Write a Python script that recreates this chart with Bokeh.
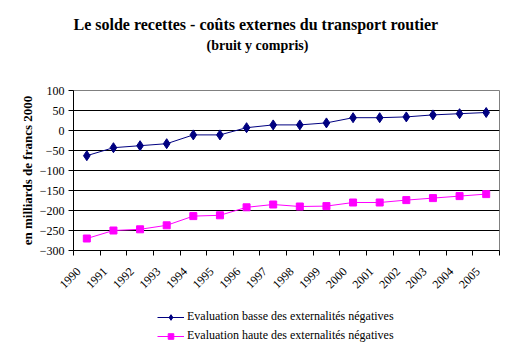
import math
from bokeh.plotting import figure
from bokeh.layouts import column
from bokeh.models import (ColumnDataSource, FixedTicker, Range1d, Legend, LegendItem, Title)
from bokeh.embed import file_html
from bokeh.resources import INLINE

years = ["1990", "1991", "1992", "1993", "1994", "1995", "1996", "1997",
         "1998", "1999", "2000", "2001", "2002", "2003", "2004", "2005"]
basse = [-63, -43, -38, -33, -11, -11, 7, 14, 14, 19, 32, 32, 34, 39, 42, 45]
haute = [-270, -250, -247, -237, -214, -212, -192, -185, -190, -189, -180, -180, -174, -169, -164, -159]
y_ticks = [100, 50, 0, -50, -100, -150, -200, -250, -300]
grid_ticks = [50, 0, -50, -100, -150, -200, -250]

title_1 = "Le  solde recettes - coûts externes du transport routier"
title_2 = "(bruit y compris)"
y_title = "en milliards de francs 2000"
label_basse = "Evaluation basse des externalités négatives"
label_haute = "Evaluation haute des externalités négatives"

BLUE = "#000080"
MAGENTA = "#FF00FF"
FONT = "Liberation Serif"

n = len(years)
xc = [i + 0.5 for i in range(n)]
src = ColumnDataSource(dict(x=xc, basse=basse, haute=haute))

p = figure(width=514, height=300, output_backend="svg", toolbar_location=None,
           x_range=Range1d(0, n), y_range=Range1d(-300, 100),
           min_border_left=73, min_border_right=15, min_border_top=90, min_border_bottom=50)
p.background_fill_color = "white"
p.border_fill_color = "white"
p.outline_line_color = "#808080"
p.outline_line_width = 1

# titles: spacer (nearest the frame), then line 2, then line 1
spacer = Title(text=" ", text_font=FONT, text_font_size="2px", standoff=34)
t2 = Title(text=title_2, align="left", offset=133, text_font=FONT,
           text_font_size="14px", text_font_style="bold", text_color="black", standoff=0)
t1 = Title(text=title_1, align="left", offset=0, text_font=FONT,
           text_font_size="16px", text_font_style="bold", text_color="black", standoff=5)
p.add_layout(spacer, "above")
p.add_layout(t2, "above")
p.add_layout(t1, "above")

# x axis: tick marks at category boundaries, rotated labels near the left boundary
label_pos = [i + 0.19 for i in range(n)]
p.xaxis.ticker = FixedTicker(ticks=label_pos, minor_ticks=list(range(n + 1)))
p.xaxis.major_label_overrides = {x: y for x, y in zip(label_pos, years)}
p.xaxis.major_label_orientation = math.pi / 4
p.xaxis.major_label_text_font = FONT
p.xaxis.major_label_text_font_size = "12px"
p.xaxis.major_label_text_color = "black"
p.xaxis.major_tick_line_color = None
p.xaxis.minor_tick_in = 0
p.xaxis.minor_tick_out = 5
p.xaxis.minor_tick_line_color = "black"
p.xaxis.axis_line_color = "black"
p.xaxis.major_label_standoff = 13

# y axis
p.yaxis.ticker = FixedTicker(ticks=y_ticks)
p.yaxis.major_label_text_font = FONT
p.yaxis.major_label_text_font_size = "12px"
p.yaxis.major_label_text_color = "black"
p.yaxis.major_tick_in = 0
p.yaxis.major_tick_out = 5
p.yaxis.major_tick_line_color = "black"
p.yaxis.minor_tick_line_color = None
p.yaxis.axis_line_color = "black"
p.yaxis.axis_label = y_title
p.yaxis.axis_label_text_font = FONT
p.yaxis.axis_label_text_font_size = "13px"
p.yaxis.axis_label_text_font_style = "bold"
p.yaxis.axis_label_text_color = "black"
p.yaxis.axis_label_standoff = 2
p.yaxis.major_label_standoff = 4

p.xgrid.grid_line_color = None
p.ygrid.ticker = FixedTicker(ticks=grid_ticks)
p.ygrid.grid_line_color = "black"
p.ygrid.grid_line_width = 1

p.line("x", "basse", source=src, line_color=BLUE, line_width=1)
p.scatter("x", "basse", source=src, marker="diamond", size=10,
          fill_color=BLUE, line_color=BLUE)
p.line("x", "haute", source=src, line_color=MAGENTA, line_width=1)
p.scatter("x", "haute", source=src, marker="square", size=7,
          fill_color=MAGENTA, line_color=MAGENTA)

# legend strip below the chart (renderers whose single point lies outside the view)
lf = figure(width=514, height=54, output_backend="svg", toolbar_location=None,
            x_axis_location=None, y_axis_location=None,
            x_range=Range1d(0, 1), y_range=Range1d(0, 1),
            min_border=0, min_border_left=0, min_border_right=0,
            min_border_top=0, min_border_bottom=0)
lf.grid.visible = False
lf.outline_line_color = None
lf.background_fill_color = "white"
lf.border_fill_color = "white"
offview = ColumnDataSource(dict(x=[-5.0], y=[-5.0]))
el1 = lf.line("x", "y", source=offview, line_color=BLUE, line_width=1)
es1 = lf.scatter("x", "y", source=offview, marker="diamond", size=9,
                 fill_color=BLUE, line_color=BLUE)
el2 = lf.line("x", "y", source=offview, line_color=MAGENTA, line_width=1)
es2 = lf.scatter("x", "y", source=offview, marker="square", size=7,
                 fill_color=MAGENTA, line_color=MAGENTA)

legend = Legend(items=[LegendItem(label=label_basse, renderers=[el1, es1]),
                       LegendItem(label=label_haute, renderers=[el2, es2])],
                location=(84, 11), orientation="vertical",
                label_text_font=FONT, label_text_font_size="12px", label_text_color="black",
                glyph_width=27, glyph_height=14, label_height=14, label_standoff=3,
                spacing=4, padding=0, margin=0, border_line_color=None,
                background_fill_alpha=0)
lf.add_layout(legend, "center")

layout = column(p, lf, spacing=0)
open("out.html", "w").write(file_html(layout, INLINE))
